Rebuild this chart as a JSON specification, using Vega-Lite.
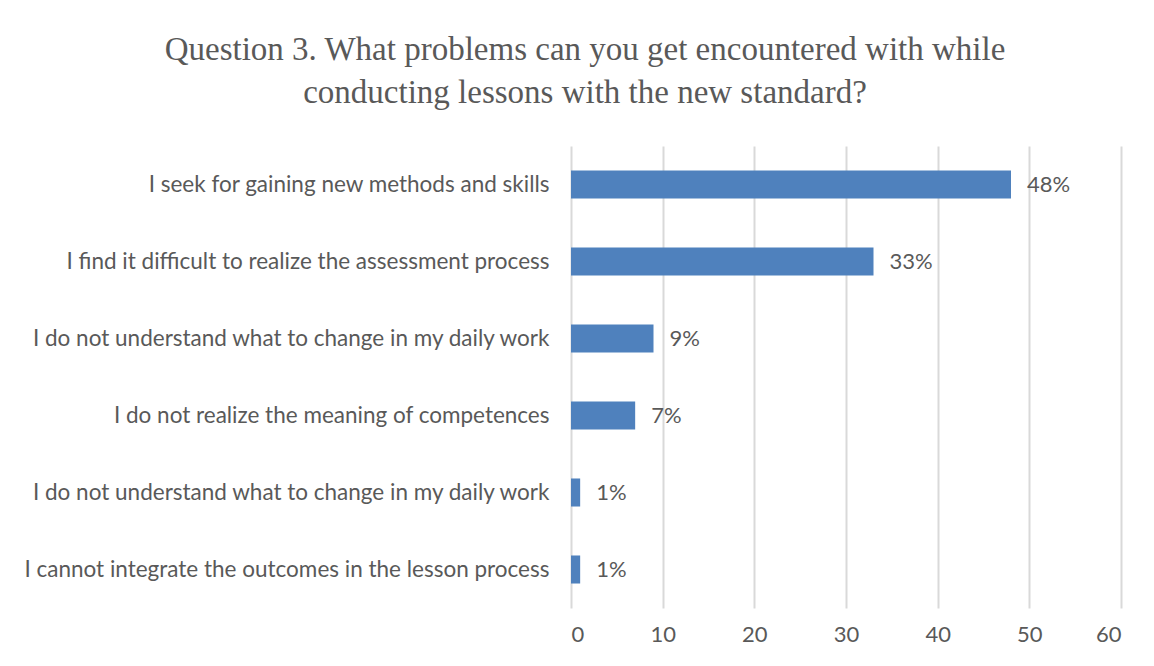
{
  "$schema": "https://vega.github.io/schema/vega-lite/v6.json",
  "autosize": {"type": "none"},
  "padding": {"left": 571, "top": 146, "right": 33, "bottom": 58},
  "width": 550,
  "height": 462,
  "background": "white",
  "title": {
    "text": ["Question 3. What problems can you get encountered with while", "conducting lessons with the new standard?"],
    "font": "Liberation Serif",
    "fontSize": 33,
    "fontWeight": "normal",
    "color": "#595959",
    "lineHeight": 43,
    "anchor": "middle",
    "frame": "group",
    "dx": -261,
    "offset": 36
  },
  "data": {
    "values": [
      {"problem": "I seek for gaining new methods and skills ", "percent": 48, "label": "48%"},
      {"problem": "I find it difficult to realize the assessment process", "percent": 33, "label": "33%"},
      {"problem": "I do not understand what to change in my daily work", "percent": 9, "label": "9%"},
      {"problem": "I do not realize the meaning of competences", "percent": 7, "label": "7%"},
      {"problem": "I do not understand what to change in my daily work ", "percent": 1, "label": "1%"},
      {"problem": "I cannot integrate the outcomes in the lesson process", "percent": 1, "label": "1%"}
    ]
  },
  "encoding": {
    "y": {
      "field": "problem",
      "type": "nominal",
      "sort": null,
      "title": null,
      "scale": {"paddingInner": 0.636, "paddingOuter": 0.318},
      "axis": {
        "domain": false,
        "ticks": false,
        "labelFont": "Lato",
        "labelFontSize": 22.5,
        "labelColor": "#595959",
        "labelPadding": 22,
        "labelLimit": 700
      }
    },
    "x": {
      "field": "percent",
      "type": "quantitative",
      "title": null,
      "scale": {"domain": [0, 60], "nice": false},
      "axis": {
        "values": [0, 10, 20, 30, 40, 50, 60],
        "domain": false,
        "ticks": false,
        "grid": true,
        "gridColor": "#d9d9d9",
        "gridWidth": 2,
        "labelFont": "Lato",
        "labelFontSize": 22,
        "labelColor": "#595959",
        "labelPadding": 16
      }
    }
  },
  "layer": [
    {"mark": {"type": "bar", "color": "#4f81bd"}},
    {
      "mark": {"type": "text", "align": "left", "dx": 16, "font": "Lato", "fontSize": 22, "color": "#595959"},
      "encoding": {"text": {"field": "label"}}
    }
  ],
  "config": {"view": {"stroke": null}}
}
